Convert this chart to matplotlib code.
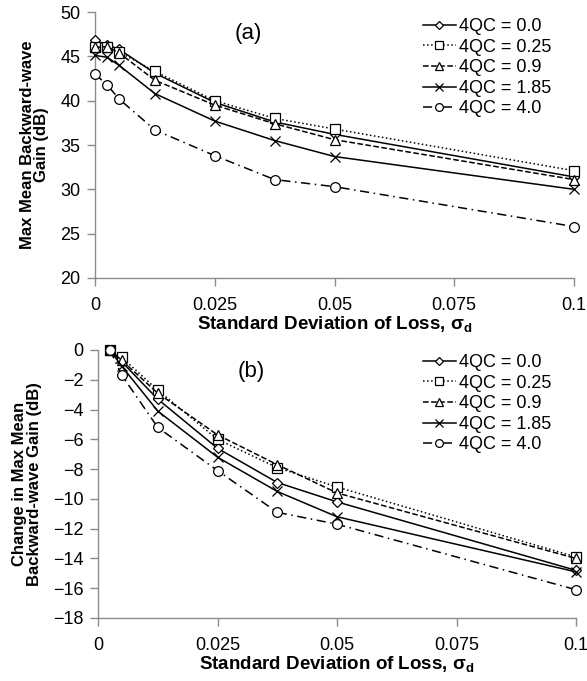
import matplotlib
matplotlib.use("Agg")
import matplotlib.pyplot as plt
from matplotlib import font_manager

plt.rcParams['font.family'] = ['Liberation Sans', 'DejaVu Sans']
plt.rcParams['mathtext.fontset'] = 'custom'
plt.rcParams['mathtext.bf'] = 'Liberation Sans:bold'
plt.rcParams['mathtext.rm'] = 'Liberation Sans'

# Standard deviation of loss values
sigma_a = [0, 0.0025, 0.005, 0.0125, 0.025, 0.0375, 0.05, 0.1]
sigma_b = [0.0025, 0.005, 0.0125, 0.025, 0.0375, 0.05, 0.1]

labels = ["4QC = 0.0", "4QC = 0.25", "4QC = 0.9", "4QC = 1.85", "4QC = 4.0"]

# (a) Max mean backward-wave gain (dB)
gain_00 = [46.8, 46.3, 45.8, 43.1, 39.8, 37.6, 36.2, 31.4]
gain_025 = [46.1, 46.0, 45.5, 43.3, 40.0, 38.0, 36.8, 32.1]
gain_09 = [46.0, 46.1, 45.4, 42.3, 39.5, 37.4, 35.6, 31.1]
gain_185 = [45.1, 44.9, 44.0, 40.8, 37.7, 35.5, 33.7, 30.0]
gain_40 = [43.0, 41.8, 40.2, 36.7, 33.8, 31.1, 30.3, 25.8]

# (b) Change in max mean backward-wave gain (dB)
dgain_00 = [0.0, -0.8, -3.3, -6.6, -8.9, -10.2, -14.8]
dgain_025 = [0.0, -0.5, -2.7, -6.0, -7.9, -9.2, -13.9]
dgain_09 = [0.0, -0.7, -2.9, -5.7, -7.7, -9.6, -14.0]
dgain_185 = [0.0, -1.1, -4.1, -7.2, -9.5, -11.2, -14.9]
dgain_40 = [0.0, -1.7, -5.2, -8.1, -10.9, -11.7, -16.1]

xticks = [0, 0.025, 0.05, 0.075, 0.1]
xticklabels = ["0", "0.025", "0.05", "0.075", "0.1"]

styles = [
    dict(marker='D', linestyle='-', markersize=5.5),
    dict(marker='s', linestyle=':', markersize=7),
    dict(marker='^', linestyle='--', markersize=7),
    dict(marker='x', linestyle='-', markersize=7),
    dict(marker='o', linestyle=(0, (6, 3, 1, 3)), markersize=7),
]

# Narrow bold face for the y-axis titles when available
names = {f.name for f in font_manager.fontManager.ttflist}
ylab_family = ['Liberation Sans Narrow', 'Liberation Sans', 'DejaVu Sans'] \
    if 'Liberation Sans Narrow' in names else ['Liberation Sans', 'DejaVu Sans']
ylab_size = 14 if 'Liberation Sans Narrow' in names else 12

fig = plt.figure(figsize=(5.87, 6.81), dpi=100)
W, H = 587, 681
ax_a = fig.add_axes([95 / W, 1 - 278 / H, (574 - 95) / W, (278 - 12) / H])
ax_b = fig.add_axes([98 / W, 1 - 618 / H, (576 - 98) / W, (618 - 350) / H])

def draw(ax, x, series, ylim, yticks, tag, ylabel, leg_top):
    for y, st, lab in zip(series, styles, labels):
        ax.plot(x, y, color='black', linewidth=1.1, markerfacecolor='white',
                markeredgecolor='black', markeredgewidth=0.9, label=lab,
                clip_on=False, zorder=3, **st)
    ax.set_xlim(0, 0.1)
    ax.set_ylim(*ylim)
    ax.set_xticks(xticks)
    ax.set_xticklabels(xticklabels)
    ax.set_yticks(yticks)
    for s in ['top', 'right']:
        ax.spines[s].set_visible(False)
    for s in ['left', 'bottom']:
        ax.spines[s].set_color('#8c8c8c')
        ax.spines[s].set_linewidth(1.0)
    ax.tick_params(axis='both', colors='#8c8c8c', labelcolor='black',
                   labelsize=13, length=5.5, width=1.0, direction='out')
    ax.tick_params(axis='x', pad=8)
    ax.tick_params(axis='y', pad=5)
    ax.set_xlabel("Standard Deviation of Loss, \u03c3$_\\mathbf{d}$",
                  fontsize=13.5, fontweight='bold', labelpad=1)
    ax.set_ylabel(ylabel, fontsize=ylab_size, fontweight='bold',
                  family=ylab_family, linespacing=0.95, labelpad=8)
    ax.text(0.32, 0.92, tag, transform=ax.transAxes, fontsize=16,
            ha='center', va='center')
    ax.legend(loc='upper left', bbox_to_anchor=(423 / W, 1 - leg_top / H),
              bbox_transform=fig.transFigure, frameon=False, fontsize=13,
              handlelength=1.8, handletextpad=0.2, labelspacing=0.2,
              borderpad=0, borderaxespad=0, markerscale=0.8)

draw(ax_a, sigma_a, [gain_00, gain_025, gain_09, gain_185, gain_40],
     (20, 50), range(20, 51, 5), "(a)", "Max Mean Backward-wave\nGain (dB)", 18)
draw(ax_b, sigma_b, [dgain_00, dgain_025, dgain_09, dgain_185, dgain_40],
     (-18, 0), range(-18, 1, 2), "(b)", "Change in Max Mean\nBackward-wave Gain (dB)", 354)

fig.savefig("out.png", dpi=100)
